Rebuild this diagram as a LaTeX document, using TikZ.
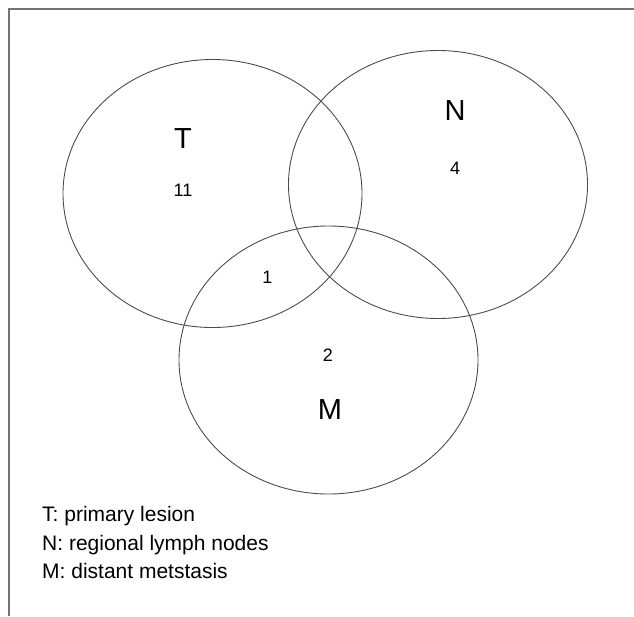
\documentclass[tikz,border=0pt]{standalone}
\usepackage{fontspec}
\setmainfont{Liberation Sans}
\usetikzlibrary{shapes.geometric}

\begin{document}
\begin{tikzpicture}[
    x=1pt, y=-1pt,
    setring/.style={draw=black!70, line width=0.9pt, ellipse, minimum width=299pt, minimum height=268pt, inner sep=0pt},
    setname/.style={font=\fontsize{29}{30}\selectfont, inner sep=0pt},
    count/.style={font=\fontsize{18}{20}\selectfont, inner sep=0pt},
    legend/.style={font=\fontsize{21}{24}\selectfont, inner sep=0pt, anchor=base west},
]
    \useasboundingbox (0,0) rectangle (634,616);
    \draw[black!55, line width=1.3pt] (9,616) -- (9,9) -- (634,9);

    % the three sets
    \node[setring] (setT) at (212.5,193.5) {};
    \node[setring] (setN) at (438,184.5) {};
    \node[setring] (setM) at (328.5,360) {};

    \node[setname] (labT) at (183,138.5) {T};
    \node[setname] (labN) at (455,110.5) {N};
    \node[setname] (labM) at (330,410) {M};

    \node[count] (cntT) at (183,190) {11};
    \node[count] (cntN) at (455,168) {4};
    \node[count] (cntTM) at (267.5,277) {1};
    \node[count] (cntM) at (328,355) {2};

    % key
    \node[legend] (keyT) at (42,521) {T: primary lesion};
    \node[legend] (keyN) at (42,550) {N: regional lymph nodes};
    \node[legend] (keyM) at (42,578.5) {M: distant metstasis};
\end{tikzpicture}
\end{document}
